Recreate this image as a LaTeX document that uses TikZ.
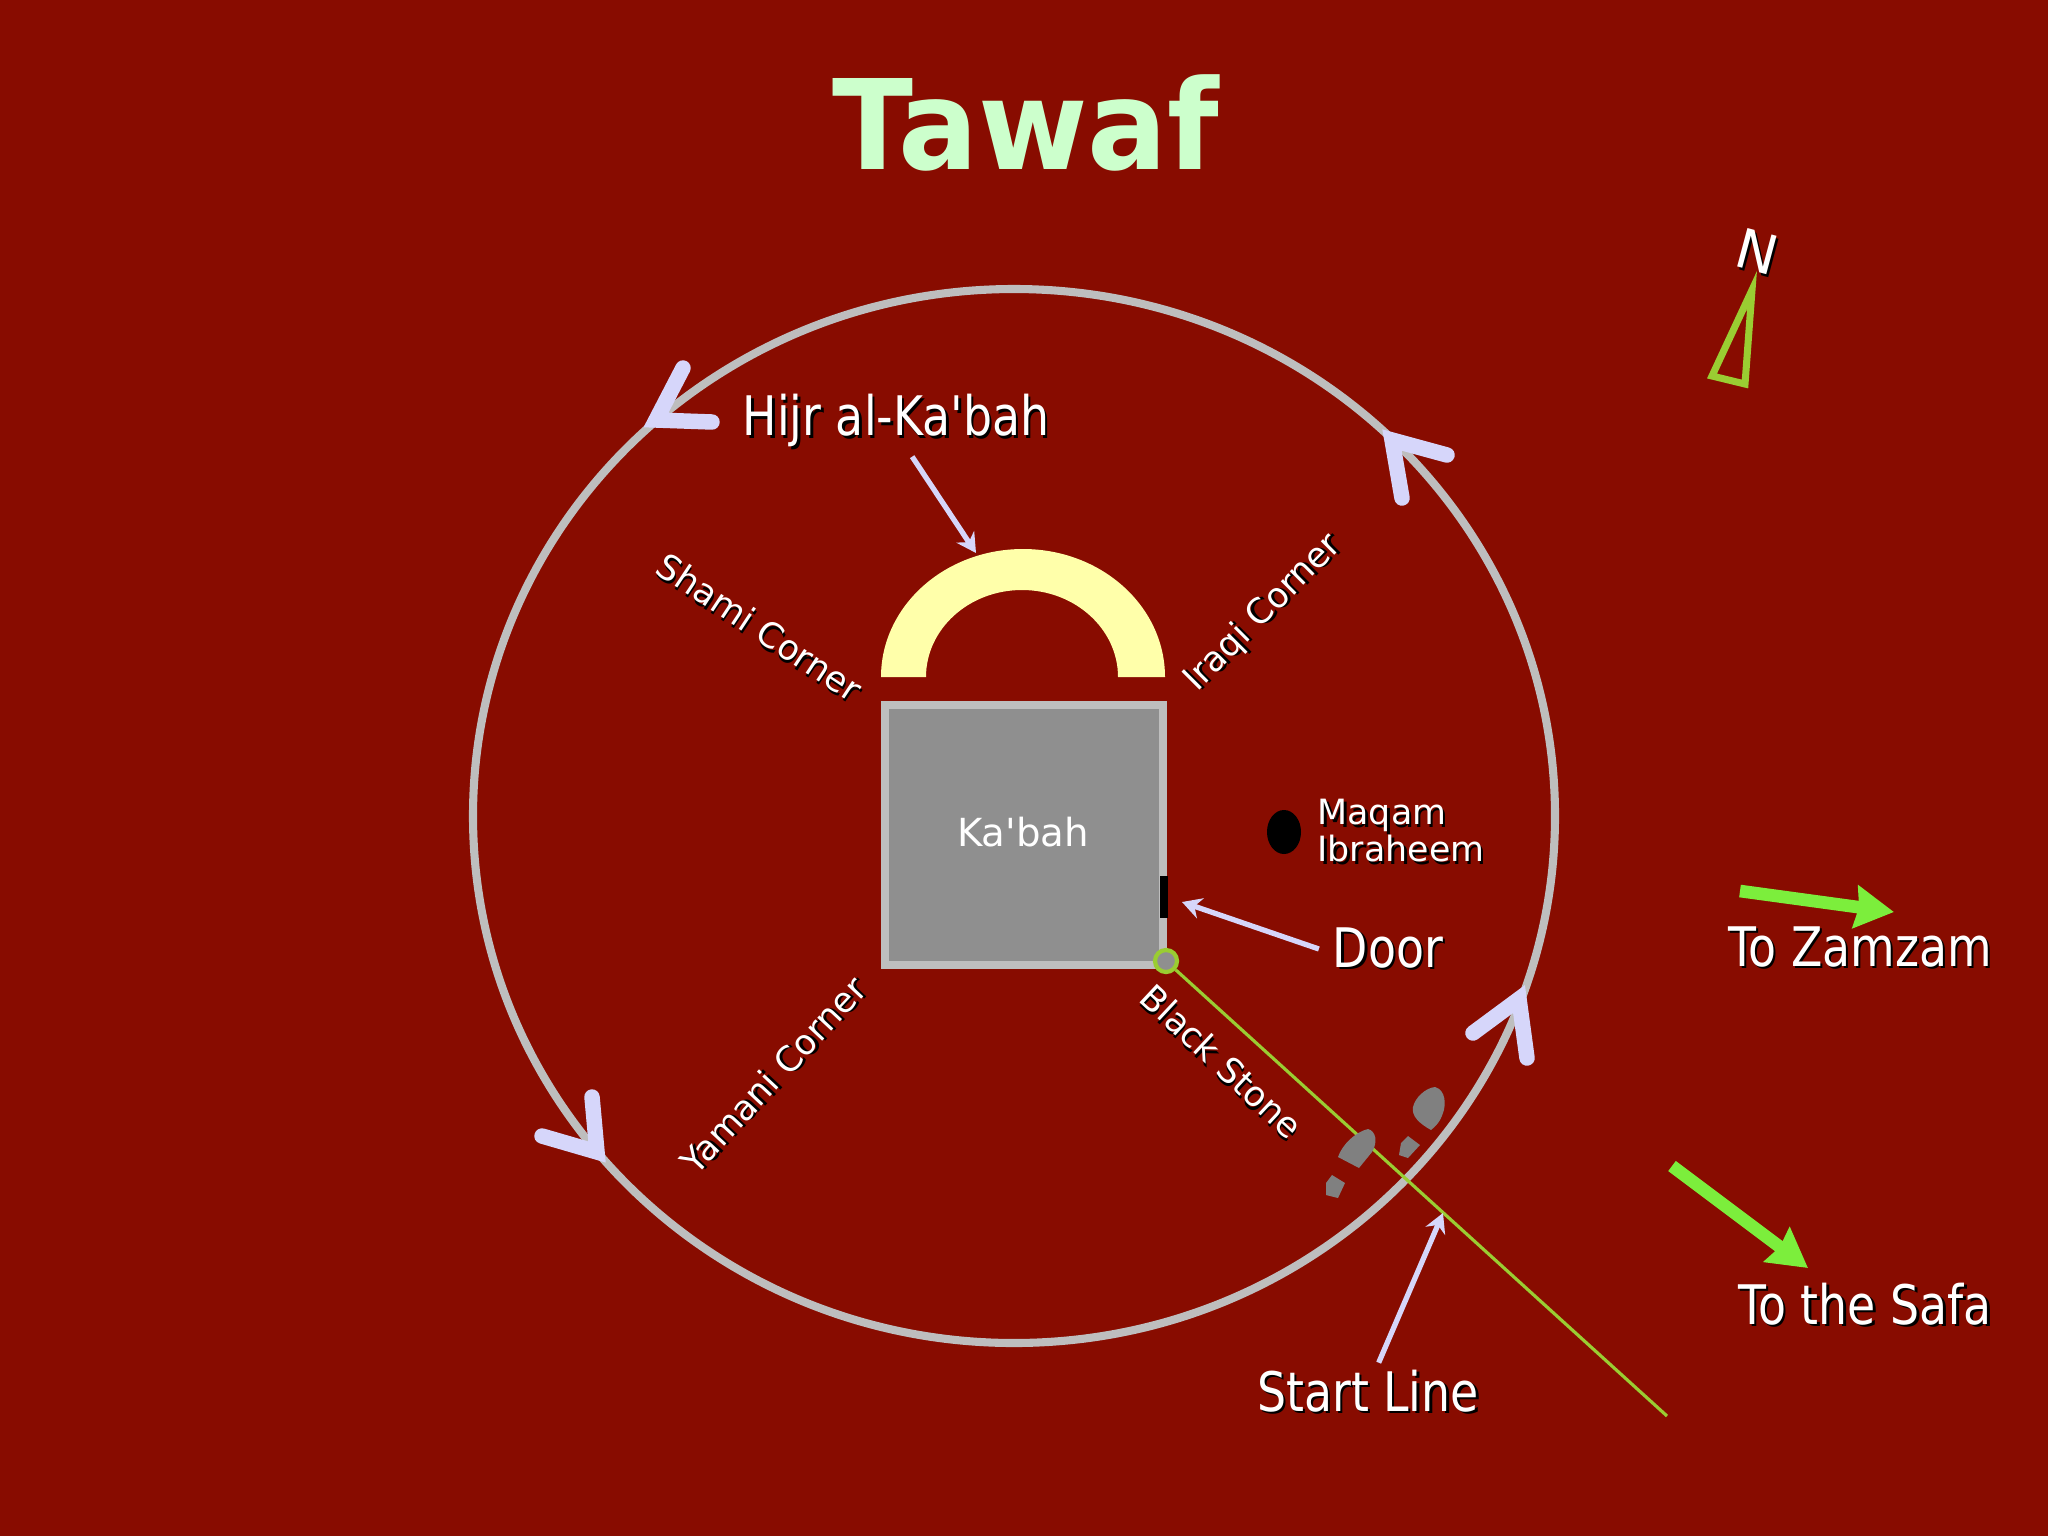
\documentclass[tikz,border=0pt]{standalone}
\usepackage{fontspec}
\usepackage{tikz}
\usepackage{xcolor}
\usetikzlibrary{arrows.meta,positioning}
\setmainfont{DejaVu Sans}
\newfontfamily\labelfont{DejaVu Sans}
\newfontfamily\callfont[FakeStretch=0.84]{DejaVu Sans}
\newfontfamily\titlefont[FakeStretch=0.95]{DejaVu Sans Bold}
\definecolor{tawafred}{RGB}{136, 12, 0}
\definecolor{tawafmint}{RGB}{204, 255, 204}
\definecolor{tawafring}{RGB}{190, 190, 190}
\definecolor{tawafgray}{RGB}{143, 143, 143}
\definecolor{tawaflilac}{RGB}{214, 214, 250}
\definecolor{tawafcream}{RGB}{255, 255, 170}
\definecolor{tawafolive}{RGB}{154, 205, 50}
\definecolor{tawafgreen}{RGB}{124, 238, 60}
\definecolor{tawafstep}{RGB}{128, 128, 128}
\newcommand{\shadowed}[1]{\makebox[0pt][l]{\hspace{.7pt}\raisebox{-.7pt}{\color{black}#1}}#1}
\tikzset{
  smalltext/.style={text=white, font=\labelfont\fontsize{9.9}{10.5}\selectfont, inner sep=0pt},
  bigtext/.style={text=white, font=\callfont\fontsize{15.5}{18}\selectfont, inner sep=0pt, outer sep=4pt},
  chevron/.style={draw=tawaflilac, line width=4.4pt, line cap=round, miter limit=10},
  pointer/.style={draw=tawaflilac, line width=1.5pt, -{Stealth[length=5.5pt,width=6pt]}},
  bigarrow/.style={draw=tawafgreen, line width=3.6pt, -{Stealth[length=11pt,width=12pt,inset=1pt]}},
  stepmark/.style={fill=tawafstep}
}
\begin{document}
\begin{tikzpicture}[x=0.01cm,y=-0.01cm]
\fill[tawafred] (0,0) rectangle (2048,1536);
\node[text=tawafmint, font=\titlefont\fontsize{35.5}{40}\selectfont, inner sep=0pt] (title) at (1026,123) {Tawaf};

\draw[tawafring, line width=2.3pt] (1014,816) ellipse[x radius=541, y radius=527];
\draw[chevron] (683,368) -- (656,420) -- (712,422);
\draw[chevron] (1447,455) -- (1392,440) -- (1402,498);
\draw[chevron] (1473,1033) -- (1519,999) -- (1527,1058);
\draw[chevron] (592,1097) -- (597,1152) -- (542,1136);

\fill[tawafcream] (881,677) arc[start angle=180, end angle=360, x radius=142, y radius=128]
  -- (1118,677) arc[start angle=360, end angle=180, x radius=96, y radius=87] -- cycle;
\node[draw=tawafring, fill=tawafgray, line width=2.3pt, minimum width=2.78cm, minimum height=2.60cm,
  text=white, font=\labelfont\fontsize{11}{13}\selectfont, inner sep=0pt] (kabah) at (1024,835) {};
\node[text=white, font=\labelfont\fontsize{11}{13}\selectfont, inner sep=0pt] (kabahname) at (1023,832) {Ka'bah};
\fill[black] (1160,876) rectangle (1168,918);

\fill[black] (1284,832) ellipse[x radius=17, y radius=22];
\node[smalltext, align=left] (maqam) at (1401,832) {\shadowed{Maqam}\\\shadowed{Ibraheem}};
\node[smalltext, rotate=-33.5] (shami) at (759,628) {\shadowed{Shami Corner}};
\node[smalltext, rotate=45] (iraqi) at (1264,614) {\shadowed{Iraqi Corner}};
\node[smalltext, rotate=47] (yamani) at (774,1076) {\shadowed{Yamani Corner}};
\node[smalltext, rotate=-43] (blackstone) at (1221,1062) {\shadowed{Black Stone}};

\node[bigtext, outer sep=2pt] (hijr) at (896,422) {\shadowed{Hijr al-Ka'bah}};
\node[bigtext] (door) at (1388,949) {\shadowed{Door}};
\node[bigtext, outer sep=2pt] (startline) at (1368,1392) {\shadowed{Start Line}};
\node[bigtext] (zamzam) at (1860,948) {\shadowed{To Zamzam}};
\node[bigtext] (safa) at (1865,1305) {\shadowed{To the Safa}};
\node[bigtext, font=\labelfont\fontsize{15.5}{18}\selectfont, rotate=-15] (north) at (1757,253) {\shadowed{N}};

\coordinate (archtop) at (976,553);
\coordinate (doortick) at (1182,902);
\coordinate (lineend) at (1667,1416);
\coordinate (linemark) at (1443,1213);
\coordinate (zamzamtail) at (1740,891);
\coordinate (zamzamtip) at (1894,912);
\coordinate (safatail) at (1672,1166);
\coordinate (safatip) at (1808,1268);

\node[circle, draw=tawafolive, fill=tawafgray, line width=1.2pt, minimum size=0.22cm, inner sep=0pt] (stone) at (1166,961) {};
\draw[tawafolive, line width=0.9pt] (stone) -- (lineend);

\draw[pointer] (hijr.-65) -- (archtop);
\draw[pointer] (door.west) -- (doortick);
\draw[pointer] (startline.70) -- (linemark);
\draw[bigarrow] (zamzamtail) -- (zamzamtip);
\draw[bigarrow] (safatail) -- (safatip);

\draw[tawafolive, line width=2pt, miter limit=10] (1752,290) -- (1745,384) -- (1712,376) -- cycle;

\fill[stepmark] (1435,1087) .. controls (1446,1090) and (1446,1105) .. (1443,1113) .. controls (1440,1122) and (1436,1126) .. (1431,1130)
  .. controls (1420,1124) and (1411,1116) .. (1413,1107) .. controls (1415,1098) and (1425,1088) .. (1435,1087) -- cycle;
\fill[stepmark] (1408,1136) -- (1420,1145) -- (1408,1158) -- (1399,1155) -- (1401,1143) -- cycle;
\fill[stepmark] (1368,1129) .. controls (1376,1131) and (1378,1142) .. (1372,1152) -- (1359,1168) -- (1338,1157) .. controls (1342,1145) and (1355,1132) .. (1368,1129) -- cycle;
\fill[stepmark] (1332,1175) -- (1345,1183) -- (1338,1198) -- (1326,1195) -- (1326,1183) -- cycle;
\end{tikzpicture}
\end{document}
